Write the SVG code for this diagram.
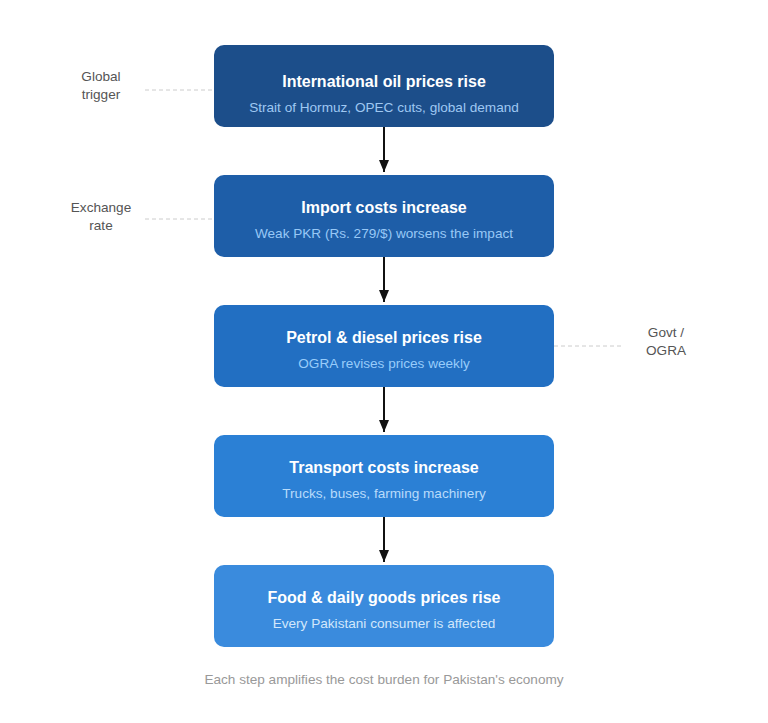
<svg xmlns="http://www.w3.org/2000/svg" width="768" height="723" viewBox="0 0 768 723">
<style>
.box{stroke:none}
.t{font-family:"Liberation Sans",Arial,sans-serif;font-size:16px;font-weight:bold;fill:#ffffff;text-anchor:middle}
.s{font-family:"Liberation Sans",Arial,sans-serif;font-size:13.6px;text-anchor:middle}
.side{font-family:"Liberation Sans",Arial,sans-serif;font-size:13.6px;fill:#555555;text-anchor:middle}
.dash{stroke:#cccccc;stroke-width:1;stroke-dasharray:4 3;fill:none}
.arr{stroke:#111111;stroke-width:2;fill:none}
.foot{font-family:"Liberation Sans",Arial,sans-serif;font-size:13.6px;fill:#999999;text-anchor:middle}
</style>
<defs>
<marker id="ah" markerWidth="12" markerHeight="10" refX="12" refY="5" orient="auto" markerUnits="userSpaceOnUse">
<path d="M0,0 L12,5 L0,10 Z" fill="#111111"/>
</marker>
</defs>
<rect width="768" height="723" fill="#ffffff"/>
<g id="connectors">
<line class="arr" x1="384" y1="127" x2="384" y2="172" marker-end="url(#ah)"/>
<line class="arr" x1="384" y1="257" x2="384" y2="302" marker-end="url(#ah)"/>
<line class="arr" x1="384" y1="387" x2="384" y2="432" marker-end="url(#ah)"/>
<line class="arr" x1="384" y1="517" x2="384" y2="562" marker-end="url(#ah)"/>
<line class="dash" x1="145" y1="90" x2="214" y2="90"/>
<line class="dash" x1="145" y1="219" x2="214" y2="219"/>
<line class="dash" x1="554" y1="346" x2="624" y2="346"/>
</g>
<g id="n1">
<rect class="box" x="214" y="45" width="340" height="82" rx="10" fill="#1c4e8a"/>
<text class="t" x="384" y="87">International oil prices rise</text>
<text class="s" x="384" y="112" fill="#9fc8f2">Strait of Hormuz, OPEC cuts, global demand</text>
</g>
<g id="n2">
<rect class="box" x="214" y="175" width="340" height="82" rx="10" fill="#1e5ea8"/>
<text class="t" x="384" y="213">Import costs increase</text>
<text class="s" x="384" y="238" fill="#98c8f6">Weak PKR (Rs. 279/$) worsens the impact</text>
</g>
<g id="n3">
<rect class="box" x="214" y="305" width="340" height="82" rx="10" fill="#226fc2"/>
<text class="t" x="384" y="343">Petrol &amp; diesel prices rise</text>
<text class="s" x="384" y="368" fill="#98ccfa">OGRA revises prices weekly</text>
</g>
<g id="n4">
<rect class="box" x="214" y="435" width="340" height="82" rx="10" fill="#2b80d5"/>
<text class="t" x="384" y="473">Transport costs increase</text>
<text class="s" x="384" y="498" fill="#b8dbfb">Trucks, buses, farming machinery</text>
</g>
<g id="n5">
<rect class="box" x="214" y="565" width="340" height="82" rx="10" fill="#3a8bdd"/>
<text class="t" x="384" y="603">Food &amp; daily goods prices rise</text>
<text class="s" x="384" y="628" fill="#d2e7fb">Every Pakistani consumer is affected</text>
</g>
<g id="side-global">
<text class="side" x="101" y="81">Global</text>
<text class="side" x="101" y="99">trigger</text>
</g>
<g id="side-exchange">
<text class="side" x="101" y="212">Exchange</text>
<text class="side" x="101" y="230">rate</text>
</g>
<g id="side-govt">
<text class="side" x="666" y="337">Govt /</text>
<text class="side" x="666" y="355">OGRA</text>
</g>
<text class="foot" x="384" y="684">Each step amplifies the cost burden for Pakistan's economy</text>
</svg>
